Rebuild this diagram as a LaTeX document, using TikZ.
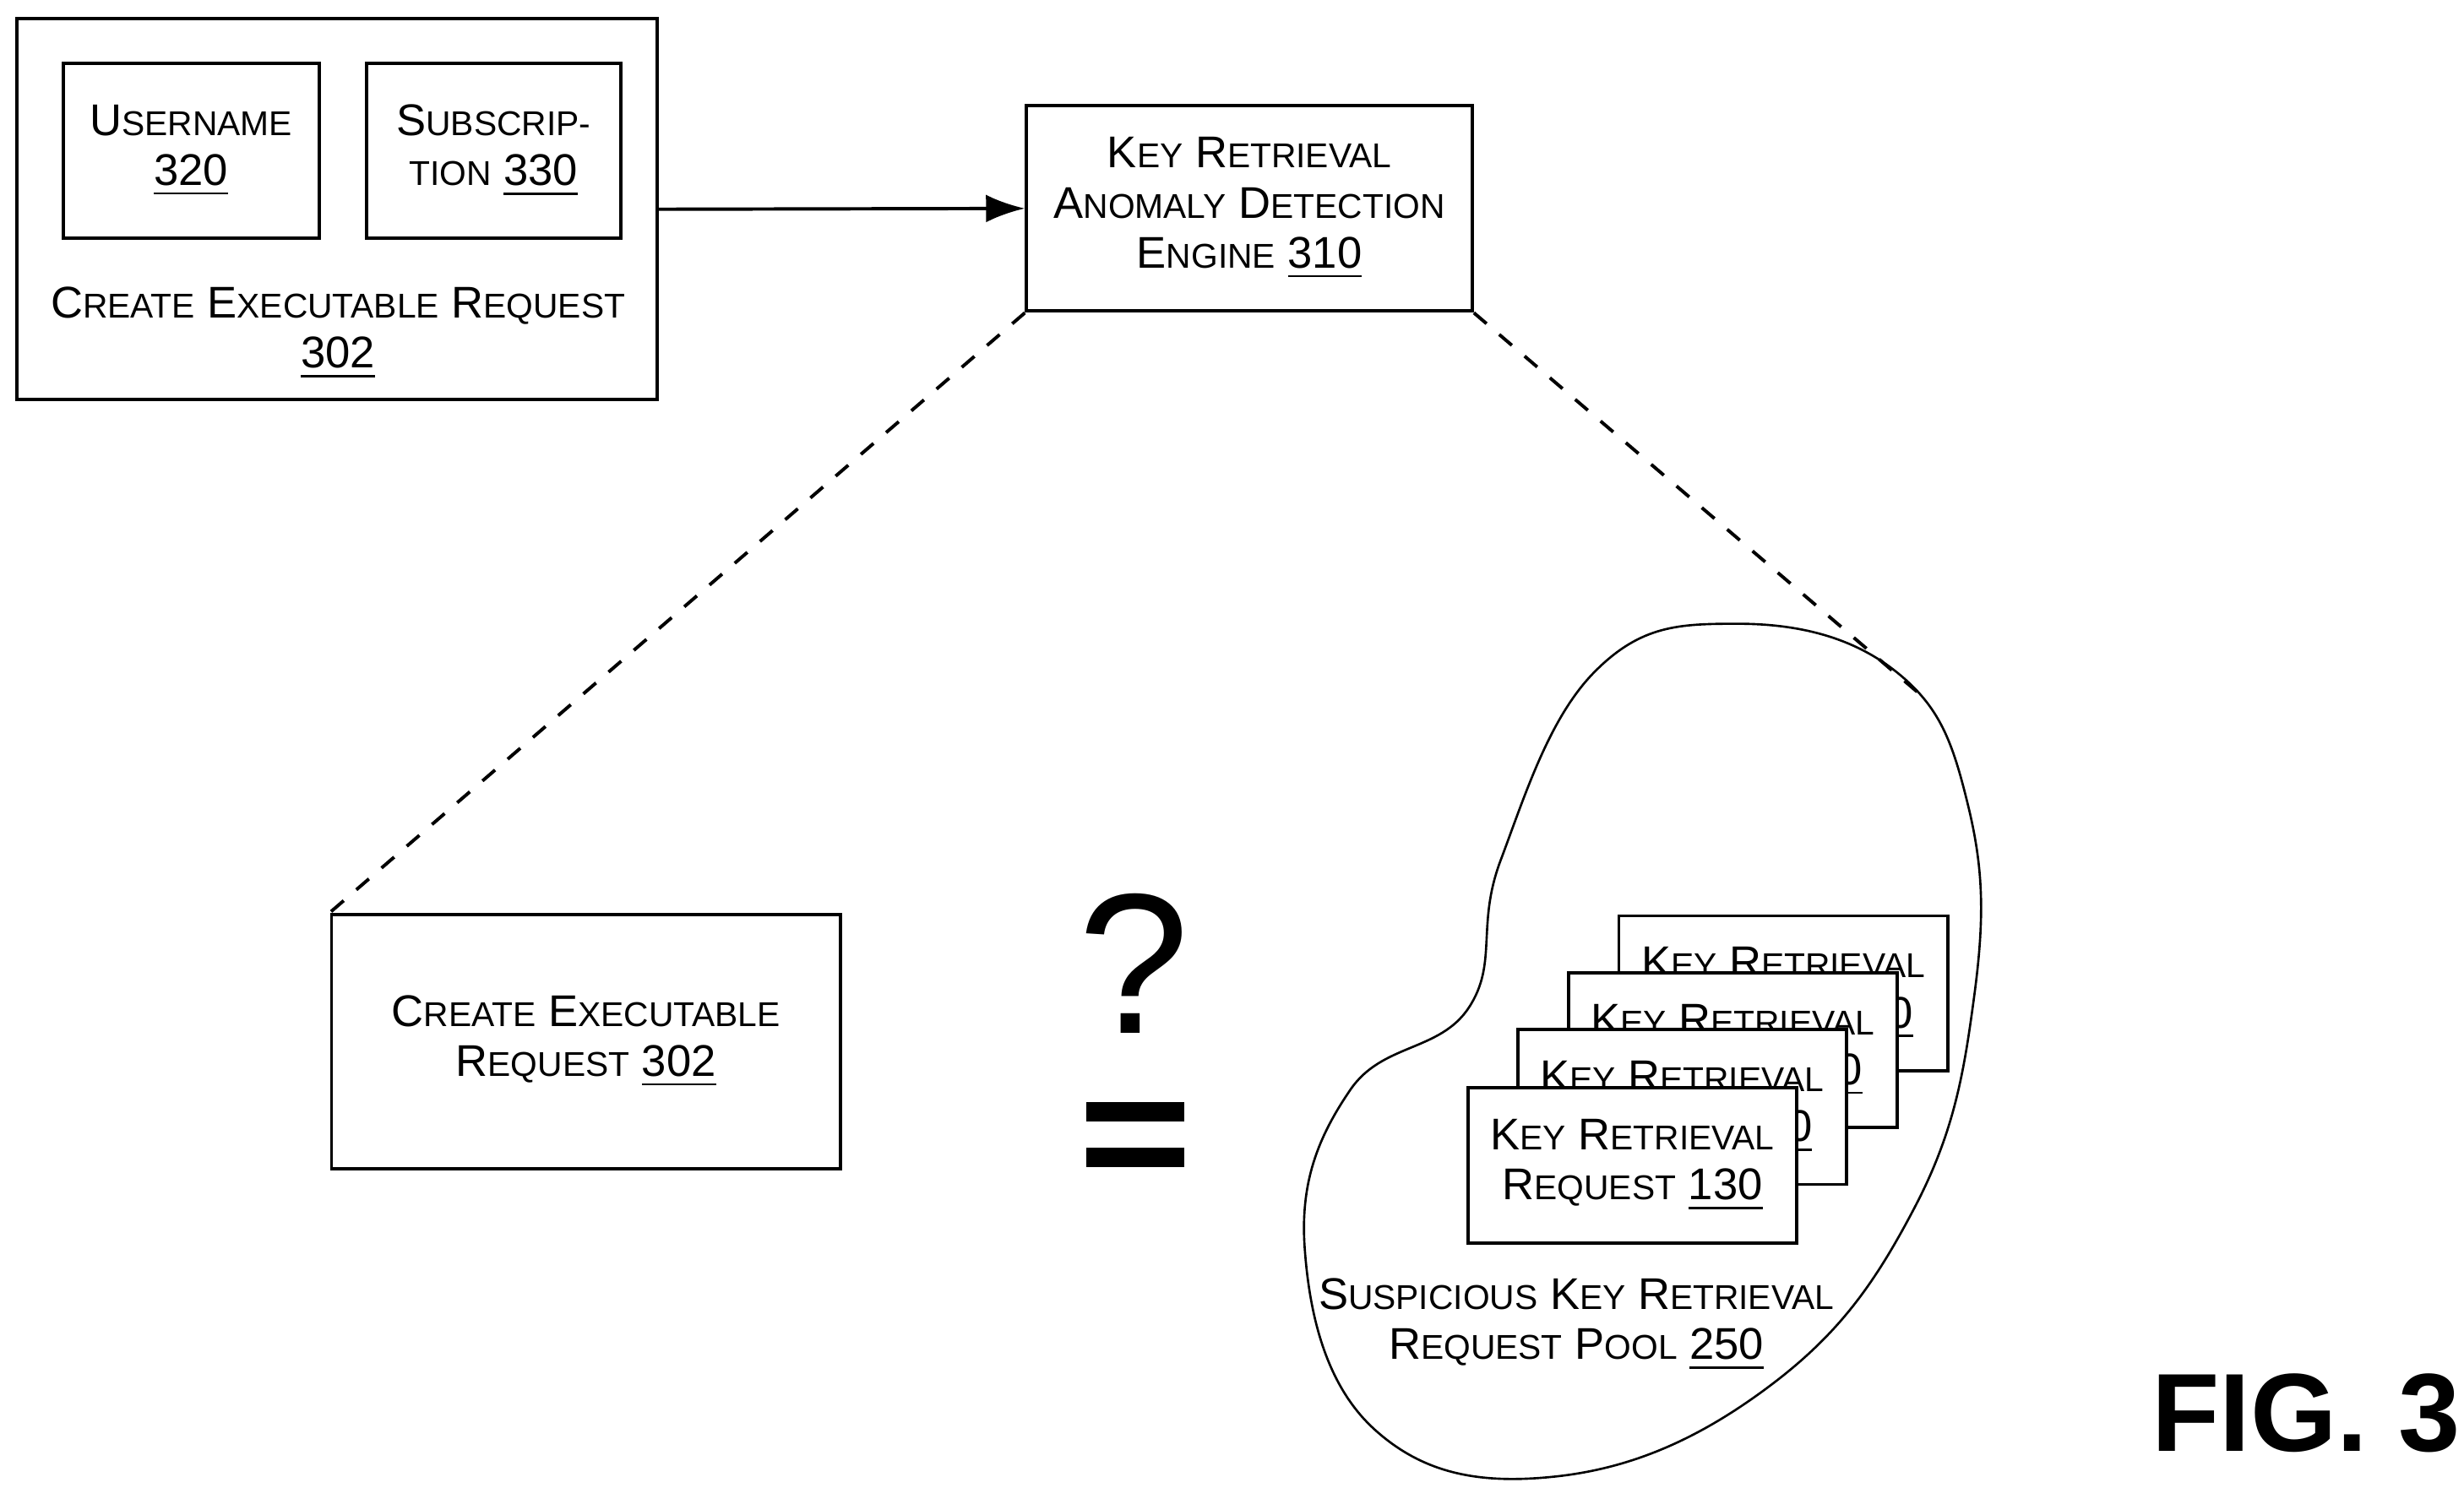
\documentclass[tikz,border=0pt]{standalone}
\usepackage{fontspec}
\setmainfont{Liberation Sans}
\usetikzlibrary{arrows.meta,positioning}
\newcommand{\smc}[2]{#1{\fontsize{6.2}{8}\selectfont\uppercase{#2}}}
\tikzset{
  box/.style={draw, line width=0.6pt, align=center, inner sep=0pt},
  card/.style={box, fill=white, minimum width=2.08cm, minimum height=0.98cm},
  lbl/.style={align=center, inner sep=0pt, font=\fontsize{8}{9}\selectfont}
}
\begin{document}
\begin{tikzpicture}[x=0.01cm, y=-0.01cm, font=\fontsize{8}{9}\selectfont]
  \useasboundingbox (0,0) rectangle (1560,942);

  % upper left request
  \node[box, minimum width=4.05cm, minimum height=2.41cm] (outer) at (213.5,132.5) {};
  \node[box, minimum width=1.62cm, minimum height=1.11cm] (user) at (121,95.5)
    {\smc{U}{sername}\\\underline{320}};
  \node[box, minimum width=1.61cm, minimum height=1.11cm] (subs) at (312.5,95.5)
    {\smc{S}{ubscrip-}\\\smc{}{tion} \underline{330}};
  \node[lbl] (outerlbl) at (214,211) {\smc{C}{reate} \smc{E}{xecutable} \smc{R}{equest}\\\underline{302}};

  % engine
  \node[box, minimum width=2.82cm, minimum height=1.30cm] (engine) at (791,132)
    {\smc{K}{ey} \smc{R}{etrieval}\\\smc{A}{nomaly} \smc{D}{etection}\\\smc{E}{ngine} \underline{310}};
  \draw[line width=0.6pt, -{Latex[length=7pt,width=5pt]}] (outer.east) -- (engine.west);

  % lower request
  \node[box, minimum width=3.22cm, minimum height=1.61cm] (req) at (371,659.5)
    {\smc{C}{reate} \smc{E}{xecutable}\\\smc{R}{equest} \underline{302}};

  % question and equals
  \node[inner sep=0pt, font=\fontsize{36}{40}\selectfont] (quest) at (718,610) {?};
  \fill (688,698) rectangle (750,710);
  \fill (688,727) rectangle (750,739);

  % pool
  \draw[line width=0.4pt] plot[smooth cycle, tension=0.7] coordinates {
    (1100,395) (1200,425) (1246,510) (1250,630) (1212,765) (1120,878)
    (985,935) (870,905) (826,790) (855,690) (930,638) (950,545) (1010,425)};
  \coordinate (poolpt) at (1216,440);

  \node[card] (card1) at (1129,629) {\smc{K}{ey} \smc{R}{etrieval}\\\smc{R}{equest} \underline{130}};
  \node[card] (card2) at (1097,665) {\smc{K}{ey} \smc{R}{etrieval}\\\smc{R}{equest} \underline{130}};
  \node[card] (card3) at (1065,701) {\smc{K}{ey} \smc{R}{etrieval}\\\smc{R}{equest} \underline{130}};
  \node[card] (card4) at (1033.5,738) {\smc{K}{ey} \smc{R}{etrieval}\\\smc{R}{equest} \underline{130}};

  \node[lbl] (poollbl) at (998,839) {\smc{S}{uspicious} \smc{K}{ey} \smc{R}{etrieval}\\\smc{R}{equest} \smc{P}{ool} \underline{250}};

  % zoom lines
  \draw[line width=0.6pt, dashed] (engine.south west) -- (req.north west);
  \draw[line width=0.6pt, dashed] (engine.south east) -- (poolpt);

  \node[inner sep=0pt, font=\fontsize{20}{24}\bfseries\selectfont] (fig) at (1460,895) {FIG. 3};
\end{tikzpicture}
\end{document}
